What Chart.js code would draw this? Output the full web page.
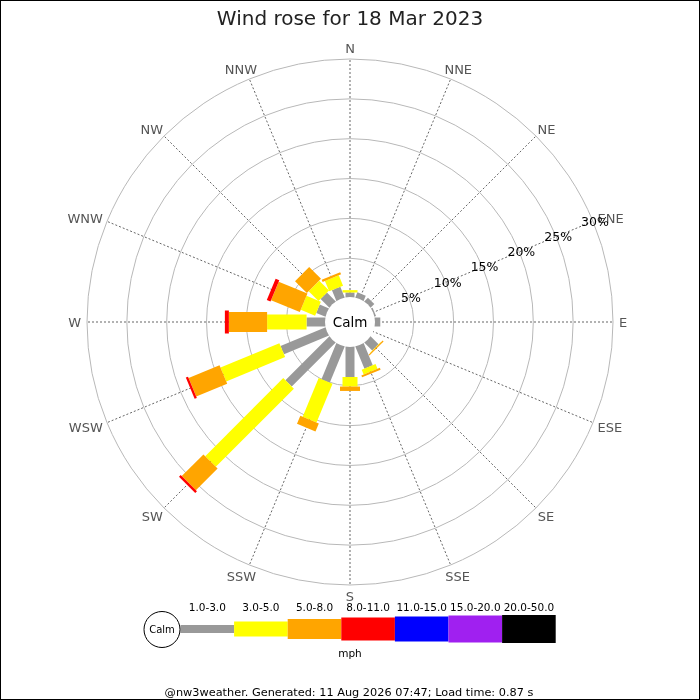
<!DOCTYPE html>
<html>
<head>
<meta charset="utf-8">
<title>Wind rose for 18 Mar 2023</title>
<script src="https://cdn.jsdelivr.net/npm/chart.js@4.4.1/dist/chart.umd.min.js"></script>
<style>
  body { margin: 0; background: #fff; }
  canvas { display: block; }
</style>
</head>
<body>
<canvas id="rose" width="700" height="700"></canvas>
<script>
// compass points, clockwise from north
const directions = ['N', 'NNE', 'NE', 'ENE', 'E', 'ESE', 'SE', 'SSE', 'S', 'SSW', 'SW', 'WSW', 'W', 'WNW', 'NW', 'NNW'];
const speedBands = ['1.0-3.0', '3.0-5.0', '5.0-8.0', '8.0-11.0', '11.0-15.0', '15.0-20.0', '20.0-50.0'];

// % of the day per direction, one array per speed band (mph)
const band1to3   = [0.7, 0.8, 0.75, 0.3, 0.8, 0, 1.5, 3.1, 3.9, 5.0, 7.9, 6.2, 2.45, 1.35, 1.65, 1.55];
const band3to5   = [0.3, 0, 0, 0, 0, 0, 0.05, 0.65, 1.2, 5.25, 13.85, 8.0, 4.95, 1.95, 1.75, 1.4];
const band5to8   = [0, 0, 0, 0, 0, 0, 0.15, 0.25, 0.55, 1.1, 3.85, 4.2, 4.8, 3.9, 2.1, 0.3];
const band8to11  = [0, 0, 0, 0, 0, 0, 0, 0, 0, 0, 0.3, 0.3, 0.5, 0.5, 0, 0];
const band11to15 = [0, 0, 0, 0, 0, 0, 0, 0, 0, 0, 0, 0, 0, 0, 0, 0];
const band15to20 = [0, 0, 0, 0, 0, 0, 0, 0, 0, 0, 0, 0, 0, 0, 0, 0];
const band20to50 = [0, 0, 0, 0, 0, 0, 0, 0, 0, 0, 0, 0, 0, 0, 0, 0];
const bandSeries = [band1to3, band3to5, band5to8, band8to11, band11to15, band15to20, band20to50];

const percentTicks = [0, 5, 10, 15, 20, 25, 30];

// styles
const bandColors = ['#999999', '#ffff00', '#ffa500', '#ff0000', '#0000ff', '#a020f0', '#000000'];
const barWidths = [9, 15, 20, 23, 25, 27, 28];
const FONT = "'DejaVu Sans', sans-serif";

// draws the bars, calm circle, labels and the key on top of the radial grid
const rosePlugin = {
    id: 'rose',
    afterDraw(chart) {
        const ctx = chart.ctx;
        const s = chart.scales.r;

        // stacked bars along each spoke
        ctx.save();
        ctx.lineCap = 'butt';
        directions.forEach((dir, i) => {
            let base = 0;
            bandSeries.forEach((vals, k) => {
                const v = vals[i];
                if (!v) return;
                const a = s.getPointPositionForValue(i, base);
                const b = s.getPointPositionForValue(i, base + v);
                ctx.beginPath();
                ctx.moveTo(a.x, a.y);
                ctx.lineTo(b.x, b.y);
                ctx.lineWidth = barWidths[k];
                ctx.strokeStyle = bandColors[k];
                ctx.stroke();
                base += v;
            });
        });
        ctx.restore();

        // calm circle in the middle
        ctx.save();
        ctx.beginPath();
        ctx.arc(s.xCenter, s.yCenter, 25, 0, Math.PI * 2);
        ctx.fillStyle = '#fff';
        ctx.fill();
        ctx.fillStyle = '#000';
        ctx.font = '13.5px ' + FONT;
        ctx.textAlign = 'center';
        ctx.textBaseline = 'middle';
        ctx.fillText('Calm', s.xCenter, s.yCenter + 1);

        // compass labels outside the outer ring
        ctx.font = '13px ' + FONT;
        ctx.fillStyle = '#555';
        directions.forEach((dir, i) => {
            const ang = s.getIndexAngle(i);
            const p = s.getPointPosition(i, s.drawingArea + 6);
            const halfW = ctx.measureText(dir).width / 2;
            ctx.fillText(dir, p.x + halfW * Math.sin(ang), p.y - 5 * Math.cos(ang) + 2);
        });

        // percent labels along the ENE spoke
        ctx.font = '12.5px ' + FONT;
        ctx.fillStyle = '#000';
        percentTicks.forEach(v => {
            if (v === 0) return;
            const p = s.getPointPositionForValue(3, v);
            ctx.fillText(v + '%', p.x + 2, p.y + 1);
        });

        // title
        ctx.font = '20px ' + FONT;
        ctx.fillStyle = '#222';
        ctx.textBaseline = 'alphabetic';
        ctx.fillText('Wind rose for 18 Mar 2023', 350, 25);

        // key
        const keyY = 629;
        const segW = 53.6;
        const x0 = 180.5;
        ctx.font = '10.5px ' + FONT;
        speedBands.forEach((lab, k) => {
            const h = k === 0 ? 8 : barWidths[k];
            ctx.fillStyle = bandColors[k];
            ctx.fillRect(x0 + k * segW, keyY - h / 2, segW, h);
            ctx.fillStyle = '#000';
            ctx.fillText(lab, x0 + (k + 0.5) * segW, 611);
        });
        ctx.fillText('mph', 350, 657);

        ctx.beginPath();
        ctx.arc(162, 629.5, 18, 0, Math.PI * 2);
        ctx.fillStyle = '#fff';
        ctx.fill();
        ctx.lineWidth = 1;
        ctx.strokeStyle = '#000';
        ctx.stroke();
        ctx.fillStyle = '#000';
        ctx.font = '10px ' + FONT;
        ctx.textBaseline = 'middle';
        ctx.fillText('Calm', 162, 630);

        // footer
        ctx.font = '11.3px ' + FONT;
        ctx.textBaseline = 'alphabetic';
        ctx.fillText('@nw3weather. Generated: 11 Aug 2026 07:47; Load time: 0.87 s', 349, 696);

        // frame
        ctx.strokeStyle = '#000';
        ctx.lineWidth = 1;
        ctx.strokeRect(0.5, 0.5, 699, 699);
        ctx.restore();
    }
};

const chart = new Chart(document.getElementById('rose'), {
    type: 'radar',
    data: {
        labels: directions,
        datasets: bandSeries.map((vals, k) => ({
            label: speedBands[k],
            data: vals,
            showLine: false,
            pointRadius: 0,
            pointHoverRadius: 0,
            borderWidth: 0,
            backgroundColor: 'transparent'
        }))
    },
    options: {
        responsive: false,
        animation: false,
        events: [],
        layout: { padding: { left: 87, right: 87, top: 59, bottom: 115 } },
        plugins: {
            legend: { display: false },
            tooltip: { enabled: false }
        },
        scales: {
            r: {
                min: -3,
                max: 30,
                startAngle: 0,
                afterBuildTicks: scale => {
                    scale.ticks = percentTicks.map(v => ({ value: v }));
                },
                ticks: { display: false },
                pointLabels: { display: false },
                grid: { circular: true, color: '#b8b8b8', lineWidth: 1 },
                angleLines: { color: '#666', lineWidth: 1, borderDash: [2, 2] }
            }
        }
    },
    plugins: [rosePlugin]
});
</script>
</body>
</html>
